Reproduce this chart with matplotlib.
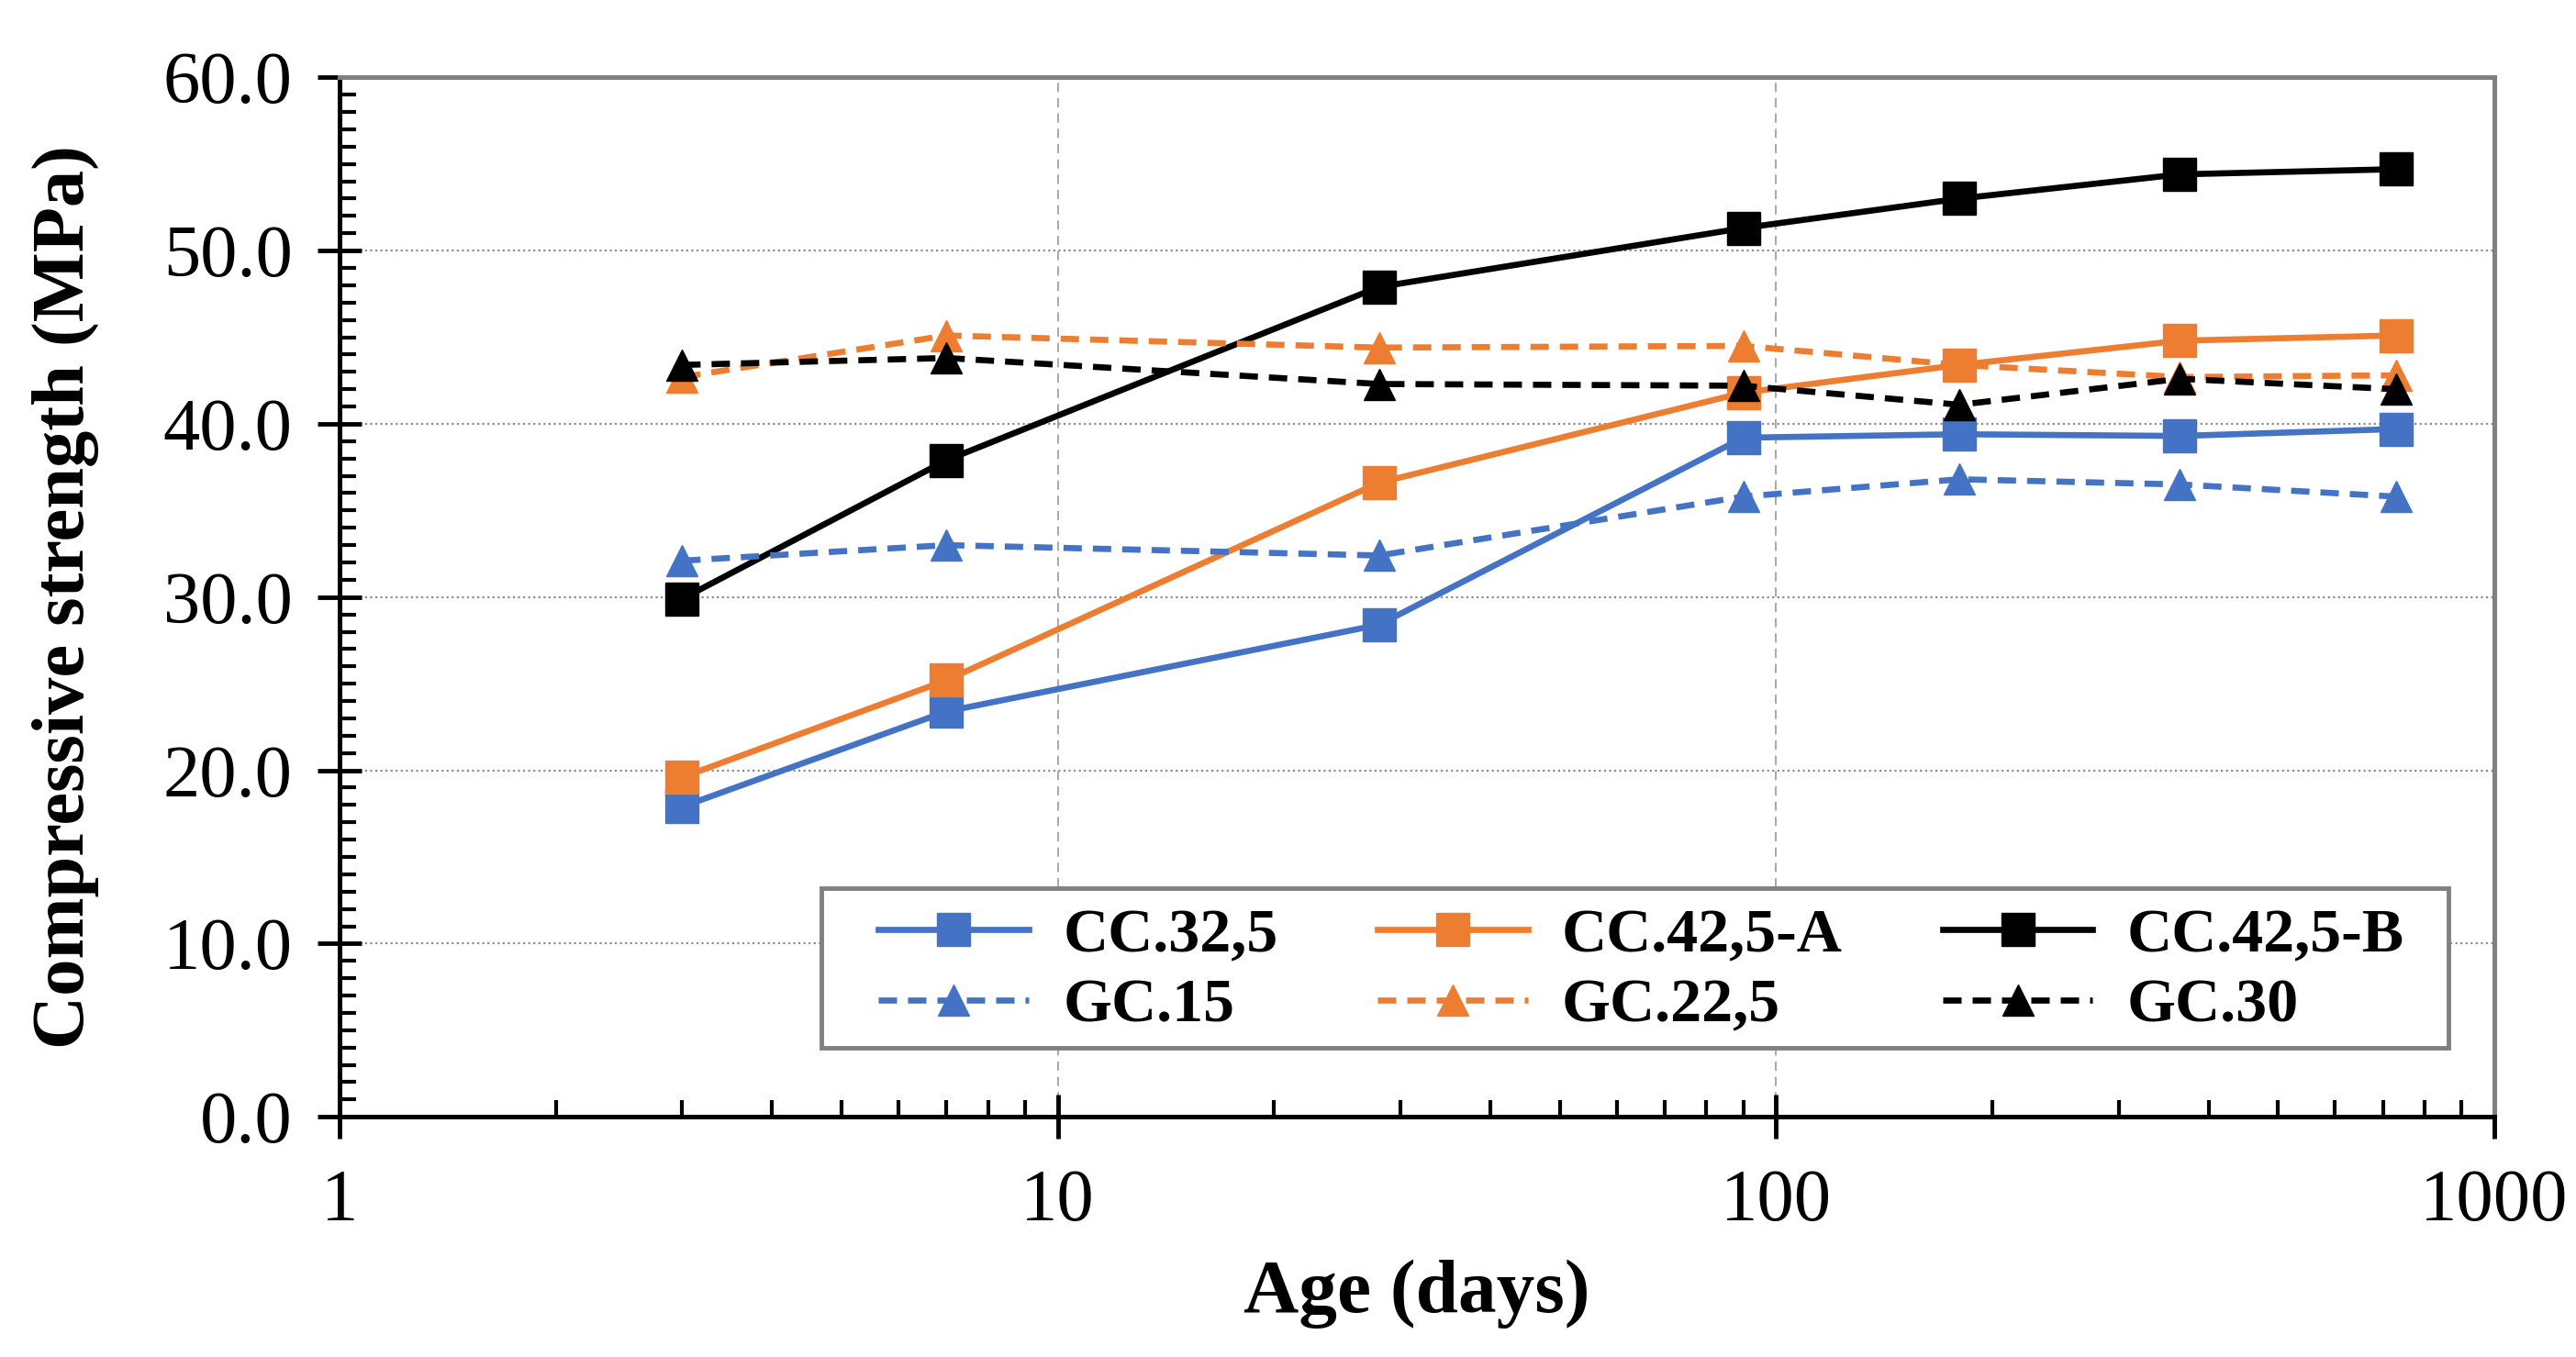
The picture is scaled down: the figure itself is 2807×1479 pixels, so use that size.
import numpy as np
import matplotlib.pyplot as plt
from matplotlib.patches import Rectangle
from matplotlib.ticker import LogLocator, MultipleLocator, FormatStrFormatter, NullFormatter

plt.rcParams['font.family'] = ['Liberation Serif', 'DejaVu Serif']

# curing age (days)
ages = [3, 7, 28, 90, 180, 365, 730]

# compressive strength (MPa)
cc_32_5 = [17.9, 23.4, 28.4, 39.2, 39.4, 39.3, 39.7]
cc_42_5_a = [19.6, 25.2, 36.6, 41.8, 43.4, 44.8, 45.1]
cc_42_5_b = [29.9, 37.9, 47.9, 51.3, 53.0, 54.4, 54.7]
gc_15 = [32.1, 33.0, 32.4, 35.8, 36.8, 36.5, 35.8]
gc_22_5 = [42.7, 45.1, 44.4, 44.5, 43.4, 42.7, 42.8]
gc_30 = [43.4, 43.8, 42.3, 42.2, 41.1, 42.6, 42.0]

BLUE = '#4472C4'
ORANGE = '#ED7D31'
BLACK = '#000000'


def main():
    fig = plt.figure(figsize=(28.07, 14.79), dpi=100)
    ax = fig.add_axes([0.1318, 0.177, 0.8365, 0.766])

    sq = dict(marker='s', markersize=26, linewidth=4.8, linestyle='-')
    tr = dict(marker='^', markersize=24, linewidth=4.8, linestyle=(0, (3, 1.8)))

    h1, = ax.plot(ages, cc_32_5, color=BLUE, label='CC.32,5', **sq)
    h2, = ax.plot(ages, cc_42_5_a, color=ORANGE, label='CC.42,5-A', **sq)
    h3, = ax.plot(ages, cc_42_5_b, color=BLACK, label='CC.42,5-B', **sq)
    h4, = ax.plot(ages, gc_15, color=BLUE, label='GC.15', **tr)
    h5, = ax.plot(ages, gc_22_5, color=ORANGE, label='GC.22,5', **tr)
    h6, = ax.plot(ages, gc_30, color=BLACK, label='GC.30', **tr)

    ax.set_xscale('log')
    ax.set_xlim(1, 1000)
    ax.set_ylim(0, 60)

    ax.xaxis.set_major_locator(LogLocator(base=10, numticks=10))
    ax.xaxis.set_minor_locator(LogLocator(base=10, subs=np.arange(2, 10), numticks=10))
    ax.xaxis.set_major_formatter(FormatStrFormatter('%d'))
    ax.xaxis.set_minor_formatter(NullFormatter())
    ax.yaxis.set_major_locator(MultipleLocator(10))
    ax.yaxis.set_minor_locator(MultipleLocator(1))
    ax.yaxis.set_major_formatter(FormatStrFormatter('%.1f'))

    ax.grid(axis='y', which='major', color='#8c8c8c', linestyle=(0, (1, 1.5)), linewidth=1.6)
    ax.grid(axis='x', which='major', color='#9a9a9a', linestyle=(0, (6, 4)), linewidth=1.2)
    ax.set_axisbelow(True)

    ax.tick_params(which='major', direction='inout', length=34, width=3.5,
                   labelsize=58, pad=20)
    ax.tick_params(which='minor', direction='in', length=13, width=3)
    ax.tick_params(axis='x', which='major', pad=24)

    for side in ['left', 'bottom']:
        ax.spines[side].set_linewidth(3.6)
        ax.spines[side].set_color('black')
    for side in ['top', 'right']:
        ax.spines[side].set_linewidth(3.6)
        ax.spines[side].set_color('#808080')

    ax.set_xlabel('Age (days)', fontsize=60, fontweight='bold', labelpad=18)
    ax.set_ylabel('Compressive strength (MPa)', fontsize=58, fontweight='bold', labelpad=50)

    # legend box drawn like the spreadsheet one, entries placed inside it
    box = Rectangle((0.2235, 0.0664), 0.7552, 0.1532, transform=ax.transAxes,
                    facecolor='white', edgecolor='#808080', linewidth=3.5, zorder=5)
    ax.add_patch(box)
    leg = ax.legend(handles=[h1, h4, h2, h5, h3, h6], ncol=3, loc='center left',
                    bbox_to_anchor=(0.2502, 0.140), frameon=False,
                    prop={'size': 49, 'weight': 'bold'}, handlelength=2.4,
                    handletextpad=0.55, borderaxespad=0, borderpad=0,
                    labelspacing=0.22, columnspacing=1.6)
    leg.set_zorder(6)

    fig.savefig('out.png', dpi=100)


if __name__ == "__main__":
    main()
